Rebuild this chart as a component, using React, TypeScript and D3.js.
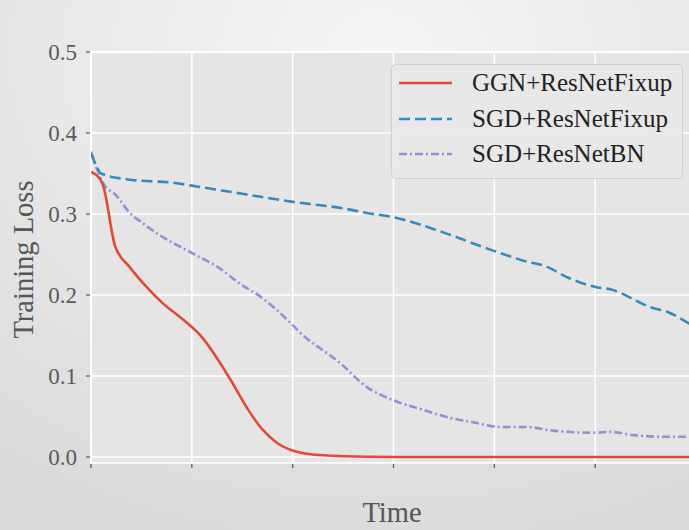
import React, { useRef, useEffect } from 'react';
import * as d3 from 'd3';

// series values, time in grid units
const ggnT = [0, 0.09, 0.12, 0.24, 0.38, 0.55, 0.71, 0.91, 1.1, 1.25, 1.4, 1.55, 1.7, 1.85, 2.0, 2.2, 2.5, 3.0, 4.0, 5.0, 6.0];
const ggnLoss = [0.352, 0.343, 0.335, 0.26, 0.235, 0.21, 0.19, 0.17, 0.148, 0.122, 0.092, 0.06, 0.034, 0.017, 0.008, 0.003, 0.001, 0.0, 0.0, 0.0, 0.0];

const sgdFixT = [0, 0.05, 0.1, 0.35, 0.85, 1.0, 1.5, 2.0, 2.5, 2.75, 3.0, 3.5, 3.96, 4.33, 4.5, 4.72, 5.0, 5.15, 5.55, 5.72, 5.93, 6.0];
const sgdFixLoss = [0.375, 0.36, 0.35, 0.343, 0.338, 0.335, 0.325, 0.315, 0.307, 0.301, 0.296, 0.277, 0.256, 0.241, 0.236, 0.222, 0.21, 0.207, 0.185, 0.179, 0.165, 0.16];

const sgdBnT = [0, 0.12, 0.25, 0.38, 0.51, 0.68, 1.0, 1.25, 1.5, 1.68, 1.95, 2.07, 2.47, 2.74, 3.0, 3.3, 3.57, 3.79, 4.06, 4.33, 4.55, 4.98, 5.15, 5.38, 5.71, 5.93, 6.0];
const sgdBnLoss = [0.377, 0.338, 0.323, 0.302, 0.289, 0.274, 0.252, 0.235, 0.212, 0.198, 0.169, 0.154, 0.116, 0.086, 0.07, 0.058, 0.048, 0.043, 0.037, 0.037, 0.033, 0.03, 0.031, 0.027, 0.025, 0.025, 0.024];

const yTicks = [0, 0.1, 0.2, 0.3, 0.4, 0.5];
const xTicks = [0, 1, 2, 3, 4, 5, 6];
const seriesNames = ['GGN+ResNetFixup', 'SGD+ResNetFixup', 'SGD+ResNetBN'];

const App = () => {
  const svgRef = useRef<SVGSVGElement>(null);

  useEffect(() => {
    const svg = d3.select(svgRef.current);
    svg.selectAll('*').remove();

    const width = 689;
    const height = 530;
    const plot = { left: 91, top: 52, right: 696, bottom: 463 };

    const x = d3.scaleLinear().domain([0, 6]).range([plot.left, plot.right]);
    const y = d3.scaleLinear().domain([-0.0074, 0.5]).range([plot.bottom, plot.top]);

    // page background, like a slide screenshot
    const defs = svg.append('defs');
    const grad = defs.append('radialGradient')
      .attr('id', 'bg').attr('cx', '0.55').attr('cy', '0.1').attr('r', '0.95');
    grad.append('stop').attr('offset', '0%').attr('stop-color', '#f6f6f6');
    grad.append('stop').attr('offset', '100%').attr('stop-color', '#dadada');
    svg.append('rect').attr('width', width).attr('height', height).attr('fill', 'url(#bg)');

    // plot area
    svg.append('rect')
      .attr('x', plot.left).attr('y', plot.top)
      .attr('width', plot.right - plot.left).attr('height', plot.bottom - plot.top)
      .attr('fill', '#e5e5e5')
      .attr('stroke', '#ffffff').attr('stroke-width', 1.5);

    const g = svg.append('g');

    // gridlines
    g.selectAll('.hgrid').data(yTicks).enter().append('line')
      .attr('x1', plot.left).attr('x2', plot.right)
      .attr('y1', d => y(d)).attr('y2', d => y(d))
      .attr('stroke', '#ffffff').attr('stroke-width', 1.6);
    g.selectAll('.vgrid').data(xTicks).enter().append('line')
      .attr('x1', d => x(d)).attr('x2', d => x(d))
      .attr('y1', plot.top).attr('y2', plot.bottom)
      .attr('stroke', '#ffffff').attr('stroke-width', 1.6);

    // y ticks and labels
    g.selectAll('.ytick').data(yTicks).enter().append('line')
      .attr('x1', plot.left - 5).attr('x2', plot.left - 1)
      .attr('y1', d => y(d)).attr('y2', d => y(d))
      .attr('stroke', '#555').attr('stroke-width', 1.2);
    g.selectAll('.ylab').data(yTicks).enter().append('text')
      .attr('x', 77).attr('y', d => y(d))
      .attr('dy', '0.35em')
      .attr('text-anchor', 'end')
      .style('font-family', '"Liberation Serif", serif')
      .style('font-size', '23px')
      .attr('fill', '#5a5a5a')
      .text(d => d3.format('.1f')(d));

    // x ticks, no labels
    g.selectAll('.xtick').data(xTicks).enter().append('line')
      .attr('x1', d => x(d)).attr('x2', d => x(d))
      .attr('y1', plot.bottom + 1).attr('y2', plot.bottom + 5)
      .attr('stroke', '#555').attr('stroke-width', 1.2);

    // lines
    const series = [
      { t: ggnT, v: ggnLoss, color: '#E24A33', dash: null },
      { t: sgdFixT, v: sgdFixLoss, color: '#348ABD', dash: '11,5' },
      { t: sgdBnT, v: sgdBnLoss, color: '#988ED5', dash: '8,3,2,3' },
    ];
    const line = d3.line<[number, number]>()
      .x(d => x(d[0])).y(d => y(d[1]))
      .curve(d3.curveMonotoneX);

    defs.append('clipPath').attr('id', 'clip')
      .append('rect').attr('x', plot.left).attr('y', plot.top - 5)
      .attr('width', plot.right - plot.left).attr('height', plot.bottom - plot.top + 5);

    const lines = svg.append('g').attr('clip-path', 'url(#clip)');
    // draw back to front so red is on top
    [...series].reverse().forEach(s => {
      const pts = s.t.map((t, i) => [t, s.v[i]] as [number, number]);
      lines.append('path')
        .attr('d', line(pts))
        .attr('fill', 'none')
        .attr('stroke', s.color)
        .attr('stroke-width', 2.6)
        .attr('stroke-dasharray', s.dash)
        .attr('stroke-linejoin', 'round');
    });

    // legend
    const lg = svg.append('g');
    lg.append('rect')
      .attr('x', 391.5).attr('y', 64.5).attr('width', 291).attr('height', 114)
      .attr('rx', 4)
      .attr('fill', '#e8e8e8').attr('fill-opacity', 0.9)
      .attr('stroke', '#cfcfcf').attr('stroke-width', 1);
    const rowY = [83, 119, 154];
    series.forEach((s, i) => {
      lg.append('line')
        .attr('x1', 399).attr('x2', 452)
        .attr('y1', rowY[i]).attr('y2', rowY[i])
        .attr('stroke', s.color).attr('stroke-width', 2.6)
        .attr('stroke-dasharray', s.dash);
      lg.append('text')
        .attr('x', 472).attr('y', rowY[i]).attr('dy', '0.33em')
        .style('font-family', '"Liberation Serif", serif')
        .style('font-size', '25px')
        .attr('fill', '#222')
        .text(seriesNames[i]);
    });

    // axis titles
    svg.append('text')
      .attr('transform', `translate(33,${(plot.top + plot.bottom) / 2 + 2}) rotate(-90)`)
      .attr('text-anchor', 'middle')
      .style('font-family', '"Liberation Serif", serif')
      .style('font-size', '28.5px')
      .attr('fill', '#555')
      .text('Training Loss');
    svg.append('text')
      .attr('x', 392).attr('y', 522)
      .attr('text-anchor', 'middle')
      .style('font-family', '"Liberation Serif", serif')
      .style('font-size', '28.5px')
      .attr('fill', '#555')
      .text('Time');
  }, []);

  return (
    <svg ref={svgRef} width={689} height={530}
      style={{ position: 'absolute', left: 0, top: 0, display: 'block' }} />
  );
};

export default App;
